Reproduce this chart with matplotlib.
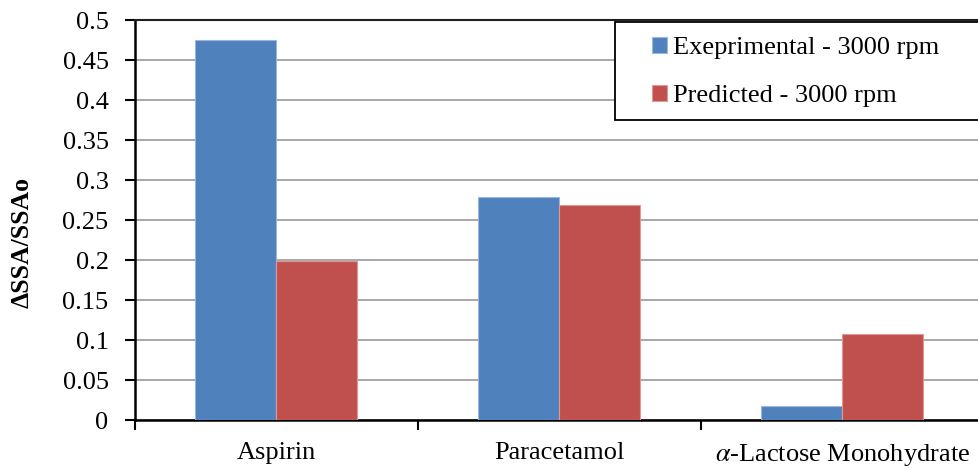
import matplotlib
matplotlib.use("Agg")
import matplotlib.pyplot as plt
from matplotlib.patches import Rectangle
import numpy as np

categories = ["Aspirin", "Paracetamol", r"$\alpha$-Lactose Monohydrate"]
experimental = [0.475, 0.279, 0.017]
predicted = [0.199, 0.269, 0.108]
series_labels = ["Exeprimental - 3000 rpm", "Predicted - 3000 rpm"]
yticks = [0, 0.05, 0.1, 0.15, 0.2, 0.25, 0.3, 0.35, 0.4, 0.45, 0.5]
ytick_labels = ["0", "0.05", "0.1", "0.15", "0.2", "0.25", "0.3", "0.35", "0.4", "0.45", "0.5"]

plt.rcParams['font.family'] = ['Liberation Serif', 'DejaVu Serif']
plt.rcParams['mathtext.fontset'] = 'stix'

W, H = 979, 469
fig = plt.figure(figsize=(W/100, H/100), dpi=100)
left, right, top, bottom = 135, 983.5, 20, 420
ax = fig.add_axes([left/W, 1-bottom/H, (right-left)/W, (bottom-top)/H])

x = np.arange(len(categories))
bw = 81/283
ax.bar(x - bw/2, experimental, bw, color='#4F81BD', edgecolor='#9DB7DA', linewidth=0.8, label=series_labels[0], zorder=3)
ax.bar(x + bw/2, predicted, bw, color='#C0504D', edgecolor='#DE9896', linewidth=0.8, label=series_labels[1], zorder=3)

ax.set_xlim(-0.5, 2.5)
ax.set_ylim(0, 0.5)
ax.set_yticks(yticks)
ax.set_yticklabels(ytick_labels, fontsize=19)
ax.set_xticks(x)
ax.set_xticklabels(categories, fontsize=19)
ax.tick_params(axis='x', which='major', length=0, pad=16)
ax.set_xticks([-0.5, 0.5, 1.5, 2.5], minor=True)
ax.tick_params(axis='x', which='minor', length=7, width=1.5, color='black')
ax.tick_params(axis='y', length=7, width=1.5, color='black', pad=12)

ax.yaxis.grid(True, color='#A0A0A0', linewidth=1.3, zorder=0)
ax.set_axisbelow(True)
for s in ['left', 'bottom']:
    ax.spines[s].set_linewidth(1.8)
    ax.spines[s].set_color('black')
ax.spines['top'].set_linewidth(1.5)
ax.spines['top'].set_color('#202020')
ax.spines['right'].set_visible(False)

fig.text(22/W, 1-242/H, "ΔSSA/SSAo", fontsize=18.5, fontweight='bold',
         rotation=90, ha='center', va='center')

# legend frame
fig.patches.append(Rectangle((615/W, 1-120/H), 375/W, 98/H, transform=fig.transFigure,
                             facecolor='white', edgecolor='black', linewidth=1.3, zorder=5))
leg = fig.legend(loc='upper left', bbox_to_anchor=(652/W, 1-37/H),
                 fontsize=19, frameon=False,
                 handlelength=0.55, handleheight=0.55,
                 handletextpad=0.25, labelspacing=0.98, borderpad=0, borderaxespad=0)
leg.set_zorder(6)

fig.savefig("out.png", dpi=100)
